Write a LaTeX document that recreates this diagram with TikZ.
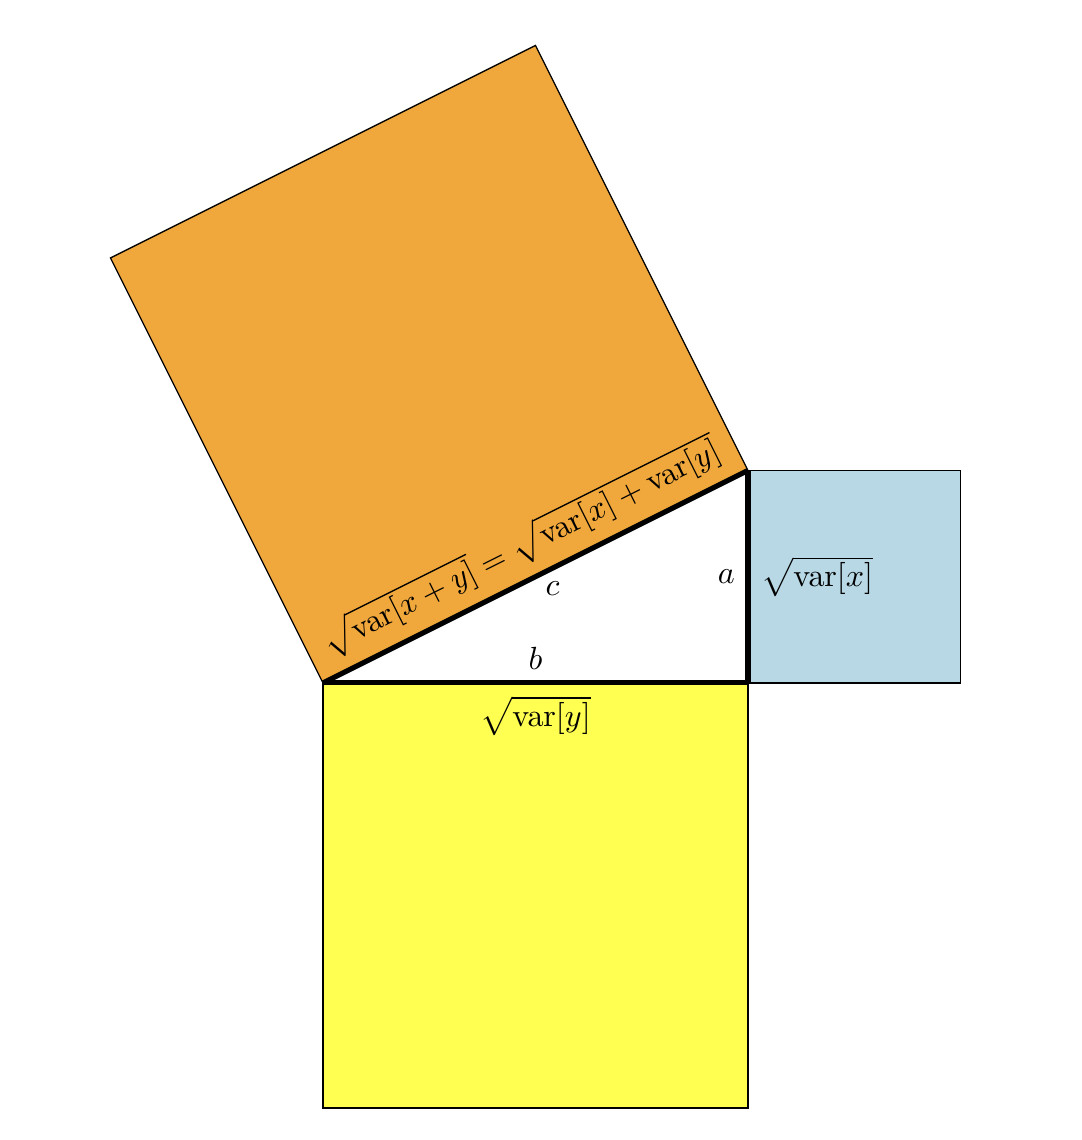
\documentclass[tikz,border=0pt]{standalone}
\usepackage{amsmath,amssymb}
\usepackage{tikz}
\usetikzlibrary{calc,positioning}
\usepackage{xcolor}
\definecolor{HypOrange}{RGB}{240,168,60}
\definecolor{LegBlue}{RGB}{183,216,228}
\definecolor{LegYellow}{RGB}{255,255,82}

\begin{document}
\begin{tikzpicture}[x=2.33cm,y=2.33cm]
\useasboundingbox (-1.52,-2.151) rectangle (3.572,3.214);
\coordinate (A) at (0,0);
\coordinate (C) at (2,0);
\coordinate (B) at (2,1);
% squares on the sides
\filldraw[fill=HypOrange, draw=black] (A) -- (B) -- (1,3) -- (-1,2) -- cycle;
\filldraw[fill=LegBlue, draw=black] (C) rectangle (3,1);
\filldraw[fill=LegYellow, draw=black] (A) rectangle (2,-2);
\fill[white] (A) -- (C) -- (B) -- cycle;
% triangle
\draw[ultra thick] (A) -- (C) node[midway, above] {$b$} node[midway, below] {$\sqrt{\mathrm{var}[y]}$};
\draw[ultra thick] (C) -- (B) node[midway, left] {$a$} node[midway, right] {$\sqrt{\mathrm{var}[x]}$};
\draw[ultra thick] (A) -- (B) node[pos=0.54, below] {$c$}
  node[midway, above, sloped] {$\sqrt{\mathrm{var}[x+y]}=\sqrt{\mathrm{var}[x]+\mathrm{var}[y]}$};
\end{tikzpicture}
\end{document}
